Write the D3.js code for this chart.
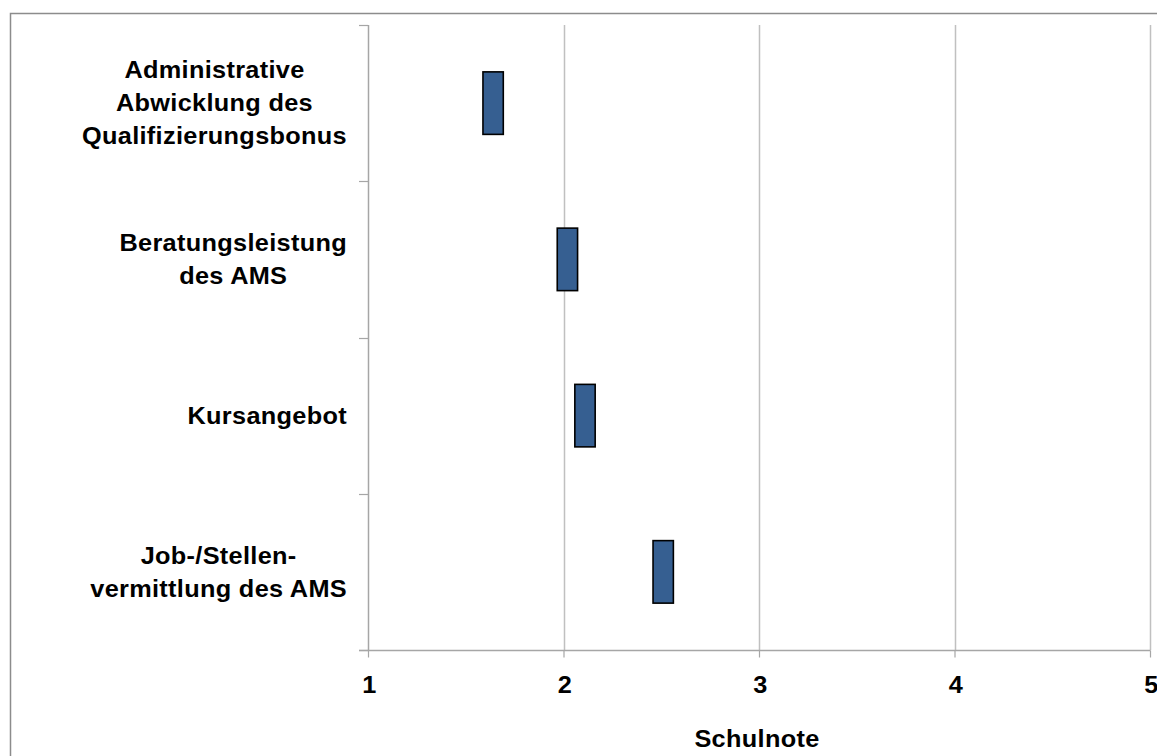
<!DOCTYPE html>
<html>
<head>
<meta charset="utf-8">
<script src="https://cdn.jsdelivr.net/npm/d3@7"></script>
<style>
  html, body { margin: 0; padding: 0; background: #fff; }
  svg { display: block; }
  text { font-family: "Liberation Sans", Arial, sans-serif; font-weight: bold; fill: #000; }
</style>
</head>
<body>
<svg id="chart" width="1157" height="756"></svg>
<script>
// ---- data ----
const categories = [
  ["Administrative", "Abwicklung des", "Qualifizierungsbonus"],
  ["Beratungsleistung", "des AMS"],
  ["Kursangebot"],
  ["Job-/Stellen-", "vermittlung des AMS"]
];
const values = [1.64, 2.02, 2.11, 2.51];
const xTicks = [1, 2, 3, 4, 5];
const xTitle = "Schulnote";

// ---- layout ----
const W = 1157, H = 756;
const plot = { left: 368, right: 1150, top: 25, bottom: 650 };
const halfWidth = 0.052; // marker half width in axis units
const FS = 23, SX = 1.1, LS = "0.3px";

const svg = d3.select("#chart");

// outer frame
svg.append("rect")
  .attr("x", 10.5).attr("y", 13.5)
  .attr("width", W + 20).attr("height", H + 20)
  .attr("fill", "none").attr("stroke", "#8c8c8c").attr("stroke-width", 1.5);

const x = d3.scaleLinear().domain([1, 5]).range([plot.left, plot.right]);
const keys = categories.map((c, i) => i);
const y = d3.scaleBand().domain(keys).range([plot.top, plot.bottom]).padding(0);

// helper: stretched centered text
function label(parent, str, cx, base) {
  const g = parent.append("g").attr("transform", `translate(${cx},${base}) scale(${SX},1)`);
  return g.append("text").attr("x", 0).attr("y", 0).attr("text-anchor", "middle")
    .attr("font-size", FS).style("letter-spacing", LS).text(str);
}

// gridlines
svg.append("g").selectAll("line")
  .data(xTicks.filter(t => t > 1))
  .join("line")
  .attr("x1", d => Math.round(x(d)) + 0.5).attr("x2", d => Math.round(x(d)) + 0.5)
  .attr("y1", plot.top).attr("y2", plot.bottom)
  .attr("stroke", "#c0c0c0").attr("stroke-width", 1.5);

// x axis
const xAxis = d3.axisBottom(x).tickValues(xTicks).tickSize(7).tickFormat(d3.format("d"));
const gx = svg.append("g").attr("transform", `translate(0,${plot.bottom + 0.5})`).call(xAxis);
gx.select(".domain").remove();
gx.append("line").attr("x1", plot.left - 9).attr("x2", plot.right + 0.5)
  .attr("y1", 0).attr("y2", 0).attr("stroke", "#a6a6a6").attr("stroke-width", 1.5);
gx.selectAll(".tick line").attr("stroke", "#a6a6a6").attr("stroke-width", 1.2);
gx.selectAll(".tick text").remove();
gx.selectAll(".tick").each(function(d) {
  label(d3.select(this), d3.format("d")(d), 1, 42.5);
});

// y axis
const gy = svg.append("g");
gy.append("line").attr("x1", plot.left + 0.5).attr("x2", plot.left + 0.5)
  .attr("y1", plot.top).attr("y2", plot.bottom)
  .attr("stroke", "#a6a6a6").attr("stroke-width", 1.5);
const bounds = keys.map(k => y(k)).concat([plot.bottom]);
gy.selectAll("line.tk").data(bounds).join("line").attr("class", "tk")
  .attr("x1", plot.left - 9).attr("x2", plot.left)
  .attr("y1", d => Math.round(d) + 0.5).attr("y2", d => Math.round(d) + 0.5)
  .attr("stroke", "#a6a6a6").attr("stroke-width", 1.2);

// category labels: block right-aligned, lines centered within block
const labelRight = 347;
const lh = 33;
const lg = svg.append("g");
categories.forEach((lines, i) => {
  const g = lg.append("g");
  const cy = y(i) + y.bandwidth() / 2;
  const n = lines.length;
  const texts = lines.map((l, j) => label(g, l, 0, cy + (j - (n - 1) / 2) * lh + FS * 0.36));
  const maxW = d3.max(texts, t => t.node().getComputedTextLength()) * SX;
  const cx = labelRight - maxW / 2;
  texts.forEach((t, j) => {
    const base = cy + (j - (n - 1) / 2) * lh + FS * 0.36;
    d3.select(t.node().parentNode).attr("transform", `translate(${cx},${base}) scale(${SX},1)`);
  });
});

// bars (floating markers)
const barH = y.bandwidth() * 0.4;
svg.append("g").selectAll("rect")
  .data(values)
  .join("rect")
  .attr("x", d => x(d - halfWidth))
  .attr("width", d => x(d + halfWidth) - x(d - halfWidth))
  .attr("y", (d, i) => y(i) + (y.bandwidth() - barH) / 2)
  .attr("height", barH)
  .attr("fill", "#365f91")
  .attr("stroke", "#000").attr("stroke-width", 1.6);

// axis title
label(svg, xTitle, (plot.left + plot.right) / 2 - 2, 747);
</script>
</body>
</html>
